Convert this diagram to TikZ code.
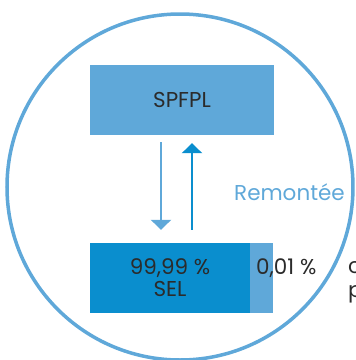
\documentclass[tikz,border=0pt]{standalone}
\usepackage{fontspec}
\setmainfont{Poppins}
\usetikzlibrary{arrows.meta}
\definecolor{lightblue}{HTML}{5FA8D9}
\definecolor{deepblue}{HTML}{0A8ECE}
\definecolor{inkgray}{HTML}{2B2B2B}
\begin{document}
\begin{tikzpicture}[x=1pt,y=-1pt,
  box/.style={rectangle, inner sep=0pt, text=inkgray, font=\fontsize{21.5}{25}\selectfont, align=center},
  flow/.style={line width=2.5pt, -{Triangle[width=20pt,length=10pt]}},
  plain/.style={text=inkgray, font=\fontsize{21.5}{25}\selectfont, inner sep=0pt}]
\useasboundingbox (0,0) rectangle (356,360);
\clip (0,0) rectangle (356,360);
\draw [lightblue, line width=3.5pt] (180,187) circle (173);
\node [box, fill=lightblue, minimum width=184, minimum height=70] (spfpl) at (182,100) {SPFPL};
\node [box, fill=deepblue, minimum width=160, minimum height=70] (sel) at (170,278) {99,99 \%\\[-3pt]SEL};
\node [box, fill=lightblue, minimum width=23, minimum height=70, anchor=west] (part) at (sel.east) {};
\node [plain, anchor=west] (pct) at (256,268) {0,01 \%};
\node [plain, anchor=west] (cut1) at (348,268) {c};
\node [plain, anchor=west] (cut2) at (348,294) {p};
\draw [flow, lightblue] ([xshift=-21pt,yshift=-7pt]spfpl.south) -- ([xshift=-9pt,yshift=13pt]sel.north);
\draw [flow, deepblue] ([xshift=22pt,yshift=13pt]sel.north) -- ([xshift=10pt,yshift=-8pt]spfpl.south);
\node [text=lightblue, font=\fontsize{21.5}{25}\selectfont, inner sep=0pt, anchor=west] (rem) at (234,192) {Remontée};
\end{tikzpicture}
\end{document}
